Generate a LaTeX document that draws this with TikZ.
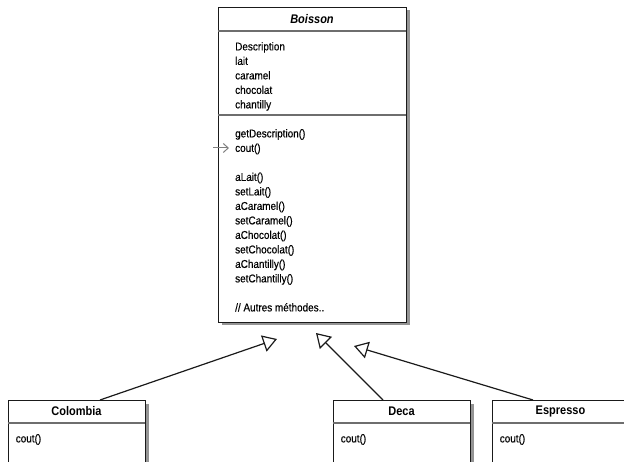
\documentclass[tikz,border=0pt]{standalone}
\usepackage{fontspec}
\setmainfont{Liberation Sans}[FakeStretch=0.88]
\newfontfamily\memberfont{Liberation Sans}[FakeStretch=0.88,FakeBold=0.35]
\usetikzlibrary{arrows.meta,positioning,shadows}
\definecolor{ink}{HTML}{1A1A1A}
\definecolor{rulegray}{HTML}{6E6E6E}
\definecolor{shade}{HTML}{707070}
\tikzset{
  classbox/.style={draw=ink,fill=white,line width=0.8pt,inner sep=0pt,
    drop shadow={shadow xshift=3.5pt,shadow yshift=-3.5pt,fill=shade,
      opacity=0.75}},
  classname/.style={font=\fontsize{12.5}{14}\selectfont\bfseries,inner sep=0pt},
  members/.style={align=left,anchor=north west,inner sep=0pt,
    font=\memberfont\fontsize{11.3}{14.5}\selectfont},
  sepline/.style={draw=rulegray,line width=1.1pt},
  inherit/.style={-{Triangle[open,length=14pt,width=17pt]},line width=1.2pt,
    draw=ink},
  hintarr/.style={-{Straight Barb[length=5pt,width=9pt]},line width=1pt,
    draw=gray}
}

\begin{document}
\begin{tikzpicture}[x=1pt,y=-1pt]
    \clip (0,0) rectangle (624,462);
    % superclass
    \node[classbox,minimum width=188pt,minimum height=315pt] (boisson)
      at (312,164.5) {};
    \node[classname,font=\fontsize{12.5}{14}\selectfont\bfseries\itshape]
      (boissonname) at ([yshift=-12pt]boisson.north) {Boisson};
    \draw[sepline] (boisson.west |- 0,31) -- (boisson.east |- 0,31);
    \draw[sepline] (boisson.west |- 0,115) -- (boisson.east |- 0,115);
    \node[members] (fields) at (235,42) {Description\\lait\\caramel\\
      chocolat\\chantilly};
    \node[members] (methods) at (235,129) {getDescription()\\cout()\\[14.5pt]
      aLait()\\setLait()\\aCaramel()\\setCaramel()\\aChocolat()\\
      setChocolat()\\aChantilly()\\setChantilly()\\[14.5pt]
      // Autres méthodes..};
    \coordinate (hint) at (213,148);
    \draw[hintarr] (hint) -- ([xshift=-6pt]hint -| methods.west);
    % subclasses
    \node[classbox,minimum width=137pt,minimum height=90pt,anchor=north]
      (colombia) at (76.5,400) {};
    \node[classbox,minimum width=137pt,minimum height=90pt,anchor=north]
      (deca) at (401.5,400) {};
    \node[classbox,minimum width=137pt,minimum height=90pt,anchor=north]
      (espresso) at (560.5,400) {};
    \node[classname] (colombianame) at ([yshift=-11.5pt]colombia.north)
      {Colombia};
    \node[classname] (decaname) at ([yshift=-11.5pt]deca.north) {Deca};
    \node[classname] (espressoname) at ([yshift=-11.5pt]espresso.north)
      {Espresso};
    \draw[sepline] ([yshift=-23pt]colombia.north west)
      -- ([yshift=-23pt]colombia.north east);
    \draw[sepline] ([yshift=-23pt]deca.north west)
      -- ([yshift=-23pt]deca.north east);
    \draw[sepline] ([yshift=-23pt]espresso.north west)
      -- ([yshift=-23pt]espresso.north east);
    \node[members] (colombiaops) at ([xshift=8pt,yshift=-34pt]colombia.north west)
      {cout()};
    \node[members] (decaops) at ([xshift=8pt,yshift=-34pt]deca.north west)
      {cout()};
    \node[members] (espressoops) at ([xshift=8pt,yshift=-34pt]espresso.north west)
      {cout()};
    % generalisation
    \coordinate (tipC) at (277,339);
    \coordinate (tipD) at (316,333);
    \coordinate (tipE) at (354,346);
    \draw[inherit] ([xshift=23.5pt]colombia.north) -- (tipC);
    \draw[inherit] ([xshift=-18.5pt]deca.north) -- (tipD);
    \draw[inherit] ([xshift=-27.5pt]espresso.north) -- (tipE);
  \end{tikzpicture}
\end{document}
